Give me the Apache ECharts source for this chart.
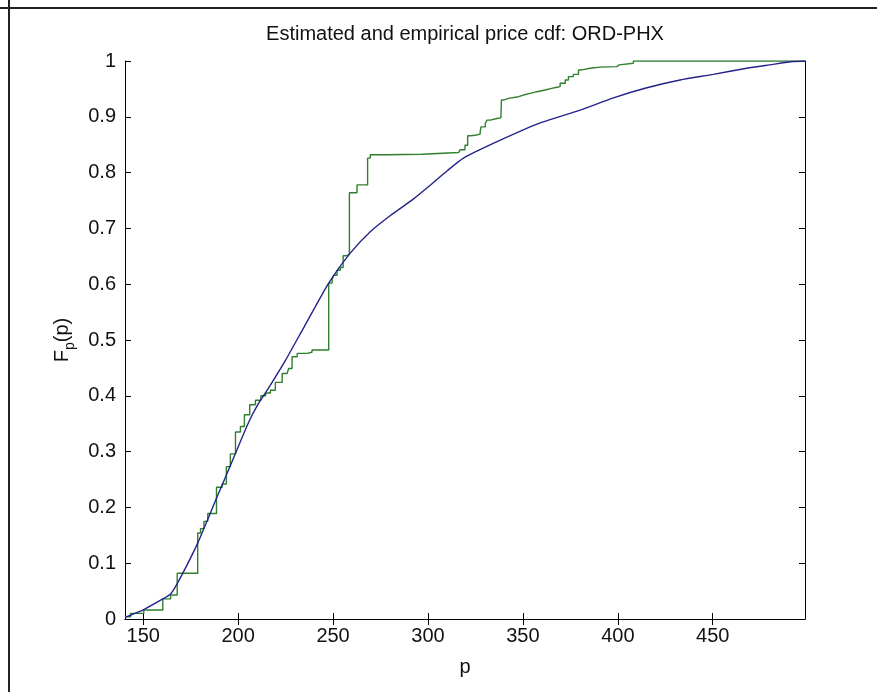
<!DOCTYPE html>
<html>
<head>
<meta charset="utf-8">
<script src="https://cdn.jsdelivr.net/npm/echarts@6/dist/echarts.min.js"></script>
<style>
html,body{margin:0;padding:0;background:#fff;}
#chart{width:877px;height:692px;}
</style>
</head>
<body>
<div id="chart"></div>
<script>
// ---- data ----
const titleText = 'Estimated and empirical price cdf: ORD-PHX';
const xName = 'p';
const xTicks = [150, 200, 250, 300, 350, 400, 450];
const yTicks = [0, 0.1, 0.2, 0.3, 0.4, 0.5, 0.6, 0.7, 0.8, 0.9, 1];
const xRange = [140.4, 498.6];

// empirical cdf (green): price where the step occurs, cdf value after step
const empPrice = [140.4, 143.3, 150.3, 160.3, 164.4, 167.9, 178.7, 180.2, 182.0, 184.0,
  188.6, 191.6, 193.8, 195.9, 198.6, 201.2, 203.3, 206.1, 209.1, 212.0,
  214.5, 217.0, 219.6, 223.2, 225.8, 226.6, 228.4, 231.1, 236.3, 238.9,
  247.7, 249.5, 250.3, 252.1, 253.8, 255.3, 257.0, 258.6, 262.6, 268.2,
  269.6, 278.4, 296.8, 316.1, 317.0, 319.5, 320.9, 322.3, 324.9, 327.5,
  327.9, 330.2, 331.1, 332.8, 336.3, 338.4, 338.7, 339.8, 342.4, 347.7,
  350.3, 353.8, 357.4, 361.7, 365.2, 367.9, 369.6, 372.3, 374.0, 376.6,
  379.3, 381.1, 385.4, 390.7, 399.5, 400.7, 408.2, 498.6];
const empCdf = [0.004, 0.010, 0.016, 0.036, 0.043, 0.082, 0.154, 0.162, 0.175, 0.189,
  0.236, 0.242, 0.273, 0.296, 0.335, 0.345, 0.366, 0.384, 0.392, 0.400,
  0.405, 0.410, 0.424, 0.440, 0.442, 0.449, 0.470, 0.476, 0.478, 0.482,
  0.602, 0.608, 0.616, 0.625, 0.630, 0.651, 0.654, 0.764, 0.778, 0.826,
  0.832, 0.833, 0.836, 0.837, 0.841, 0.849, 0.866, 0.867, 0.869, 0.873,
  0.882, 0.888, 0.894, 0.897, 0.898, 0.900, 0.930, 0.933, 0.936, 0.939,
  0.942, 0.945, 0.948, 0.951, 0.953, 0.954, 0.960, 0.966, 0.972, 0.976,
  0.984, 0.987, 0.989, 0.990, 0.993, 0.996, 1.000, 1.000];

// estimated cdf (blue)
const fitPrice = [140.4, 150.3, 160.3, 164.4, 167.0, 172.5, 178.7, 183.8, 188.9, 193.8,
  198.6, 205.6, 210.5, 215.3, 225.0, 235.0, 247.7, 258.6, 269.6, 280.2,
  292.4, 301.0, 310.0, 318.7, 338.1, 359.1, 380.2, 397.7, 415.3, 432.8,
  450.3, 467.9, 480.0, 492.4, 498.6];
const fitCdf = [0.003, 0.017, 0.036, 0.045, 0.058, 0.093, 0.136, 0.177, 0.219, 0.258,
  0.297, 0.353, 0.385, 0.410, 0.464, 0.525, 0.602, 0.654, 0.694, 0.723,
  0.753, 0.777, 0.803, 0.826, 0.858, 0.889, 0.912, 0.934, 0.952, 0.966,
  0.976, 0.987, 0.993, 0.999, 1.000];

const FONT = '"Liberation Sans", Arial, sans-serif';
const TXT = '#111';

const chart = echarts.init(document.getElementById('chart'), null, {renderer: 'canvas'});

const axisCommon = {
  axisLine: {show: true, lineStyle: {color: '#000', width: 1}},
  splitLine: {show: false}
};

chart.setOption({
  animation: false,
  backgroundColor: '#fff',
  title: {
    text: titleText,
    left: 465,
    top: 24,
    padding: 0,
    textAlign: 'center',
    textStyle: {fontFamily: FONT, fontSize: 20, fontWeight: 'normal', color: TXT}
  },
  grid: {left: 125, right: 72, top: 61, bottom: 73, containLabel: false},
  xAxis: [
    Object.assign({
      type: 'value', position: 'bottom', min: xRange[0], max: xRange[1],
      name: xName, nameLocation: 'middle', nameGap: 38,
      nameTextStyle: {fontFamily: FONT, fontSize: 20, color: TXT},
      axisTick: {show: true, inside: true, length: 6, customValues: xTicks, lineStyle: {color: '#000'}},
      axisLabel: {show: true, customValues: xTicks, margin: 7, fontFamily: FONT, fontSize: 20, color: TXT}
    }, axisCommon),
    Object.assign({
      type: 'value', position: 'top', min: xRange[0], max: xRange[1],
      axisTick: {show: true, inside: true, length: 6, customValues: xTicks, lineStyle: {color: '#000'}},
      axisLabel: {show: false, customValues: xTicks}
    }, axisCommon)
  ],
  yAxis: [
    Object.assign({
      type: 'value', position: 'left', min: 0, max: 1,
      name: '{a|F}{b|p}{a|(p)}', nameLocation: 'middle', nameGap: 48, nameRotate: 90,
      nameTextStyle: {
        fontFamily: FONT, color: TXT,
        rich: {
          a: {fontFamily: FONT, fontSize: 20, color: TXT, lineHeight: 30, verticalAlign: 'middle'},
          b: {fontFamily: FONT, fontSize: 14, color: TXT, lineHeight: 14, verticalAlign: 'bottom'}
        }
      },
      axisTick: {show: true, inside: true, length: 6, customValues: yTicks, lineStyle: {color: '#000'}},
      axisLabel: {show: true, customValues: yTicks, margin: 9, fontFamily: FONT, fontSize: 20, color: TXT}
    }, axisCommon),
    Object.assign({
      type: 'value', position: 'right', min: 0, max: 1,
      axisTick: {show: true, inside: true, length: 6, customValues: yTicks, lineStyle: {color: '#000'}},
      axisLabel: {show: false, customValues: yTicks}
    }, axisCommon)
  ],
  series: [
    {
      name: 'empirical', type: 'line', step: 'end', xAxisIndex: 0, yAxisIndex: 0,
      showSymbol: false, symbol: 'none', clip: true,
      lineStyle: {color: '#2f7f2f', width: 1.4},
      data: empPrice.map((p, i) => [p, empCdf[i]]),
      z: 2
    },
    {
      name: 'estimated', type: 'line', smooth: 0.2, xAxisIndex: 0, yAxisIndex: 0,
      showSymbol: false, symbol: 'none', clip: true,
      lineStyle: {color: '#23238a', width: 1.4},
      data: fitPrice.map((p, i) => [p, fitCdf[i]]),
      z: 3
    }
  ],
  graphic: [
    {type: 'rect', left: 8, top: 0, shape: {width: 2, height: 692}, style: {fill: '#222'}, silent: true},
    {type: 'rect', left: 0, top: 7, shape: {width: 877, height: 2}, style: {fill: '#222'}, silent: true}
  ]
});
</script>
</body>
</html>
